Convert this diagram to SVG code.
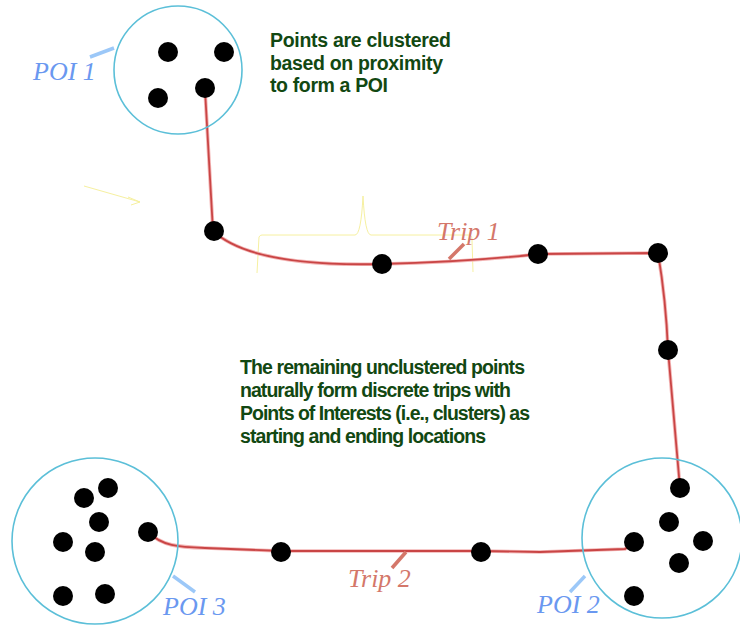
<svg xmlns="http://www.w3.org/2000/svg" width="740" height="626" viewBox="0 0 740 626">
<style>
.poi{fill:none;stroke:#5bbfd8;stroke-width:1.6}
.pt{fill:#000}
.trip{fill:none;stroke:#c94545;stroke-width:1.8;stroke-linejoin:round}
.halo{fill:none;stroke:#f3b5b5;stroke-width:3.6;stroke-linejoin:round}
.plab{font-family:"Liberation Serif",serif;font-style:italic;font-size:26px;fill:#6a98f0}
.ptick{stroke:#9cc8f8;stroke-width:3.5}
.tlab{font-family:"Liberation Serif",serif;font-style:italic;font-size:26px;fill:#d4776a}
.ttick{stroke:#d4776a;stroke-width:3.5}
.note{font-family:"Liberation Sans",Arial,sans-serif;font-weight:bold;font-size:19.5px;fill:#124812}
.faint{fill:none;stroke:#f6f0a0;stroke-width:1}
</style>
<rect width="740" height="626" fill="#fff"/>
<g id="artifacts">
<path class="faint" d="M84,186 L140,202 M128,197 L140,202 L131,205"/>
<path class="faint" d="M257,273 L259,237 Q260,235 262,235 L355,235 Q361,235 363,196 Q365,235 371,235 L469,235 Q472,235 472,240 L473,272"/>
</g>
<g id="connectors">
<path class="halo" d="M205,90 Q209,160 213,231 C240,256 300,266 381,264 Q470,262 538,254 L658,253 Q666,300 668,350 L680,488"/>
<path class="trip" d="M205,90 Q209,160 213,231 C240,256 300,266 381,264 Q470,262 538,254 L658,253 Q666,300 668,350 L680,488"/>
<path class="halo" d="M148,532 C162,546 178,547 205,548 L281,551 L481,551 L540,552 L625,549 L634,542"/>
<path class="trip" d="M148,532 C162,546 178,547 205,548 L281,551 L481,551 L540,552 L625,549 L634,542"/>
</g>
<g id="poi1">
<circle class="poi" cx="178" cy="70" r="64"/>
<circle class="pt" cx="168" cy="52" r="10"/>
<circle class="pt" cx="224" cy="52" r="10"/>
<circle class="pt" cx="205" cy="88" r="10"/>
<circle class="pt" cx="158" cy="98" r="10"/>
<line class="ptick" x1="90" y1="57" x2="114" y2="48"/>
<text class="plab" x="33" y="80">POI 1</text>
</g>
<g id="trip1-points">
<circle class="pt" cx="214" cy="231" r="10"/>
<circle class="pt" cx="382" cy="264" r="10"/>
<circle class="pt" cx="538" cy="254" r="10"/>
<circle class="pt" cx="658" cy="253" r="10"/>
<circle class="pt" cx="668" cy="350" r="10"/>
</g>
<g id="trip1-label">
<line class="ttick" x1="449" y1="259" x2="464" y2="244"/>
<text class="tlab" x="437" y="240">Trip 1</text>
</g>
<g id="poi2">
<circle class="poi" cx="662" cy="538" r="80"/>
<circle class="pt" cx="680" cy="488" r="10"/>
<circle class="pt" cx="669" cy="522" r="10"/>
<circle class="pt" cx="634" cy="542" r="10"/>
<circle class="pt" cx="703" cy="541" r="10"/>
<circle class="pt" cx="679" cy="563" r="10"/>
<circle class="pt" cx="634" cy="596" r="10"/>
<line class="ptick" x1="570" y1="592" x2="585" y2="576"/>
<text class="plab" x="537" y="613">POI 2</text>
</g>
<g id="poi3">
<circle class="poi" cx="95" cy="541" r="83"/>
<circle class="pt" cx="108" cy="488" r="10"/>
<circle class="pt" cx="84" cy="498" r="10"/>
<circle class="pt" cx="99" cy="522" r="10"/>
<circle class="pt" cx="63" cy="542" r="10"/>
<circle class="pt" cx="148" cy="532" r="10"/>
<circle class="pt" cx="95" cy="552" r="10"/>
<circle class="pt" cx="63" cy="596" r="10"/>
<circle class="pt" cx="105" cy="594" r="10"/>
<line class="ptick" x1="173" y1="576" x2="195" y2="592"/>
<text class="plab" x="163" y="615">POI 3</text>
</g>
<g id="trip2-points">
<circle class="pt" cx="281" cy="552" r="10"/>
<circle class="pt" cx="481" cy="552" r="10"/>
</g>
<g id="trip2-label">
<line class="ttick" x1="392" y1="568" x2="406" y2="552"/>
<text class="tlab" x="348" y="587">Trip 2</text>
</g>
<g id="note-cluster">
<text class="note" x="270" y="47" textLength="181" lengthAdjust="spacing">Points are clustered</text>
<text class="note" x="270" y="69.5" textLength="173" lengthAdjust="spacing">based on proximity</text>
<text class="note" x="270" y="92" textLength="118" lengthAdjust="spacing">to form a POI</text>
</g>
<g id="note-trips">
<text class="note" x="240" y="374" textLength="285" lengthAdjust="spacing">The remaining unclustered points</text>
<text class="note" x="240" y="397" textLength="271" lengthAdjust="spacing">naturally form discrete trips with</text>
<text class="note" x="240" y="420" textLength="290" lengthAdjust="spacing">Points of Interests (i.e., clusters) as</text>
<text class="note" x="240" y="443" textLength="246" lengthAdjust="spacing">starting and ending locations</text>
</g>
</svg>
